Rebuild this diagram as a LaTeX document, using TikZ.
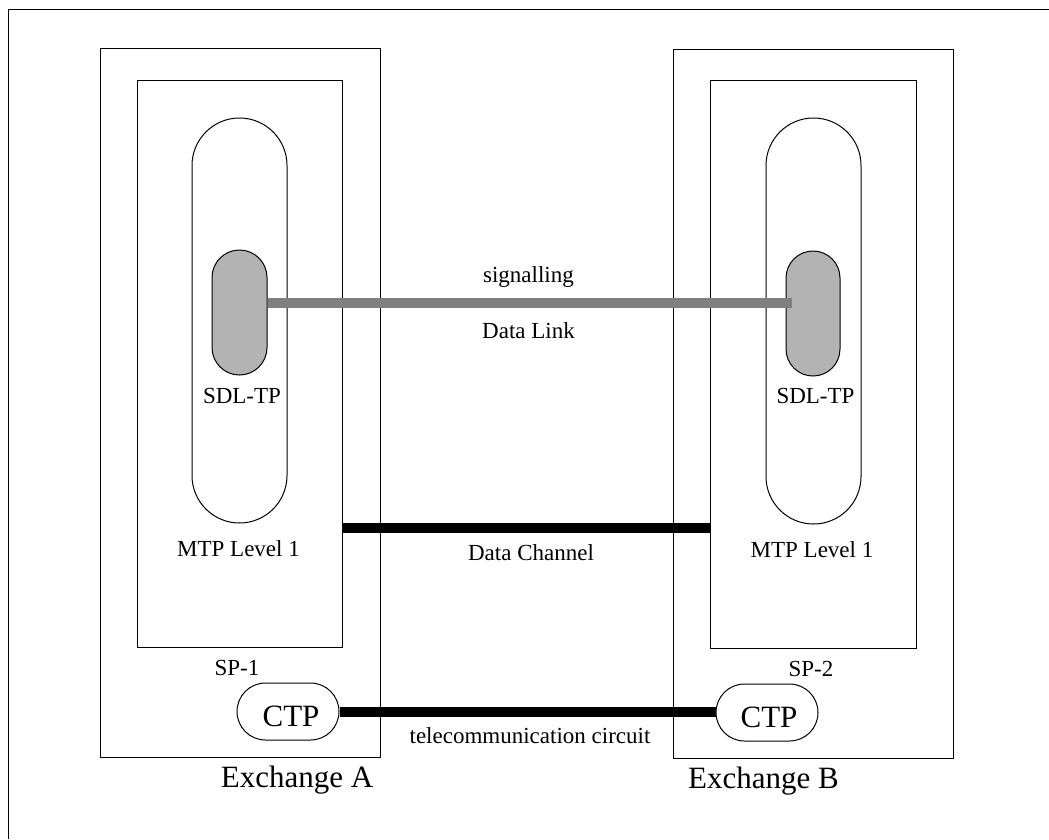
\documentclass[tikz,border=0pt]{standalone}
\usepackage{fontspec}
\setmainfont{Liberation Serif}
\begin{document}
\begin{tikzpicture}[x=1pt,y=-1pt,
  thinbox/.style={draw=black,line width=1pt,minimum width=#1,inner sep=0pt},
  lbl/.style={anchor=base,inner sep=0pt,font=\fontsize{23}{26}\selectfont},
  biglbl/.style={anchor=base,inner sep=0pt,font=\fontsize{31}{34}\selectfont},
  thickline/.style={line width=10pt,black},
  sigline/.style={line width=10pt,draw={rgb,255:red,128;green,128;blue,128}}]
\useasboundingbox (0,0) rectangle (1049,839);
% outer frame (only top and left visible)
\coordinate (fr0) at (8,839);
\coordinate (fr1) at (8,9);
\coordinate (fr2) at (1049,9);
\draw[line width=1pt] (fr0) -- (fr1) -- (fr2);
% exchanges
\node[thinbox=280pt,minimum height=709pt] (exA) at (240,402.5) {};
\node[thinbox=280pt,minimum height=709pt] (exB) at (813,403.5) {};
% MTP boxes
\node[thinbox=205pt,minimum height=567pt] (mtpA) at (239.5,363.5) {};
\node[thinbox=206pt,minimum height=568pt] (mtpB) at (813,364) {};
% big pills
\node[thinbox=95pt,minimum height=405pt,rounded corners=47.5pt] (pillA) at (239.5,320.5) {};
\node[thinbox=95pt,minimum height=406pt,rounded corners=47.5pt] (pillB) at (813.5,321) {};
% gray pills
\node[thinbox=55pt,minimum height=125pt,rounded corners=27.5pt,fill={rgb,255:red,179;green,179;blue,179}] (sdlA) at (239.5,312.5) {};
\node[thinbox=54pt,minimum height=125pt,rounded corners=27pt,fill={rgb,255:red,179;green,179;blue,179}] (sdlB) at (813,313.5) {};
% CTP
\node[thinbox=102pt,minimum height=57pt,rounded corners=28.5pt] (ctpA) at (288,711.5) {};
\node[thinbox=102pt,minimum height=57pt,rounded corners=28.5pt] (ctpB) at (767,712.5) {};
% connectors
\draw[sigline] (sdlA.east |- 0,302.5) -- ([xshift=6pt]sdlB.west |- 0,302.5);
\draw[thickline] (mtpA.east |- 0,528) -- (mtpB.west |- 0,528);
\draw[thickline] (ctpA.east |- 0,712) -- (ctpB.west |- 0,712);
% labels
\node[lbl] (tSig) at (528.5,282) {signalling};
\node[lbl] (tDL) at (528.5,338) {Data Link};
\node[lbl] (tSdlA) at (242,403) {SDL-TP};
\node[lbl] (tSdlB) at (815.5,403) {SDL-TP};
\node[lbl] (tMtpA) at (238.5,556) {MTP Level 1};
\node[lbl] (tMtpB) at (812,557.5) {MTP Level 1};
\node[lbl] (tDC) at (531,560) {Data Channel};
\node[lbl] (tSP1) at (237,675) {SP-1};
\node[lbl] (tSP2) at (811,676) {SP-2};
\node[biglbl] (tCtpA) at (291,726) {CTP};
\node[biglbl] (tCtpB) at (769,727) {CTP};
\node[lbl] (tTel) at (530,743) {telecommunication circuit};
\node[biglbl] (tExA) at (297,787) {Exchange A};
\node[biglbl] (tExB) at (763.5,788) {Exchange B};
\end{tikzpicture}
\end{document}
